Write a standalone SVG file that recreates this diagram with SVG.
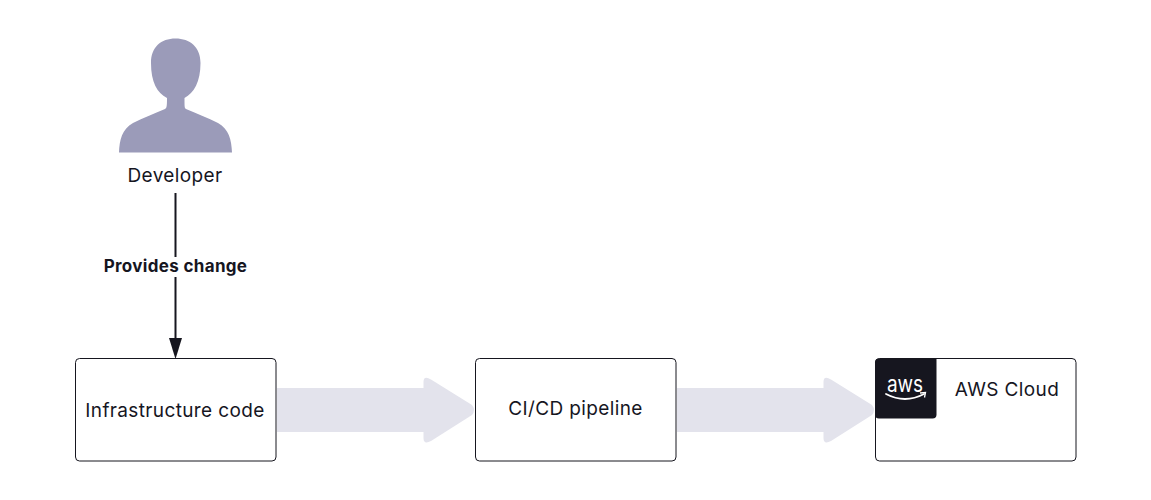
<svg xmlns="http://www.w3.org/2000/svg" width="1151" height="500" viewBox="0 0 1151 500">
<style>
text{font-family:Inter,"Liberation Sans",sans-serif;fill:#16161f}
.l{font-size:19px;letter-spacing:.37px;text-anchor:middle}
.box{fill:#fff;stroke:#16161f;stroke-width:1}
.fat{fill:#e3e3ec}
</style>
<rect width="1151" height="500" fill="#fff"/>
<g id="connectors">
<path class="fat" d="M277 388H423.500V382Q423.500 375 431 379.500L472 405Q476 410 472 415L431 441Q423.500 445 423.500 438V432H277Z"/>
<path class="fat" d="M677 388H823.500V382Q823.500 375 831 379.500L872 405Q876 410 872 415L831 441Q823.500 445 823.500 438V432H677Z"/>
<path d="M175.500 193V257M175.500 277V340" stroke="#16161f" stroke-width="2" fill="none"/>
<path d="M169 338H182L175.500 359Z" fill="#16161f"/>
<text x="175.500" y="272" font-size="17" font-weight="700" letter-spacing=".33" text-anchor="middle">Provides change</text>
</g>
<g id="developer">
<path d="M119 152.500C119.500 140 122 129 133 123C143 118 155 113 165 109C166.500 108 167 107 167 98C157 93 151 82 151 63C151 47 161 38.500 175.500 38.500C190 38.500 200.500 47 200.500 63C200.500 82 194 93 184.500 98C184.500 107 184.500 108 186 109C196 113 208 118 218 123C229 129 231.500 140 232 152.500Z" fill="#9b9bb9"/>
<text class="l" x="175" y="182">Developer</text>
</g>
<g id="infrastructure-code">
<rect class="box" x="75.500" y="358.500" width="200.500" height="102.500" rx="4"/>
<text class="l" x="175" y="417">Infrastructure code</text>
</g>
<g id="cicd-pipeline">
<rect class="box" x="475.500" y="358.500" width="200.500" height="102.500" rx="4"/>
<text class="l" x="575.500" y="415">CI/CD pipeline</text>
</g>
<g id="aws-cloud">
<rect class="box" x="875.500" y="358.500" width="200.500" height="102.500" rx="4"/>
<path d="M879 358.500H936.500V414.500Q936.500 418.500 932.500 418.500H879Q875 418.500 875 414.500V362.500Q875 358.500 879 358.500Z" fill="#16161f"/>
<text transform="translate(905 392) scale(1 1.2)" font-size="19" text-anchor="middle" style="fill:#fff">aws</text>
<path d="M886 394Q905 404 924 394" fill="none" stroke="#fff" stroke-width="1.800" stroke-linecap="round"/>
<path d="M920 393L925.500 392.500L924.500 397.500" fill="none" stroke="#fff" stroke-width="1.300"/>
<text class="l" x="1007" y="396">AWS Cloud</text>
</g>
</svg>
